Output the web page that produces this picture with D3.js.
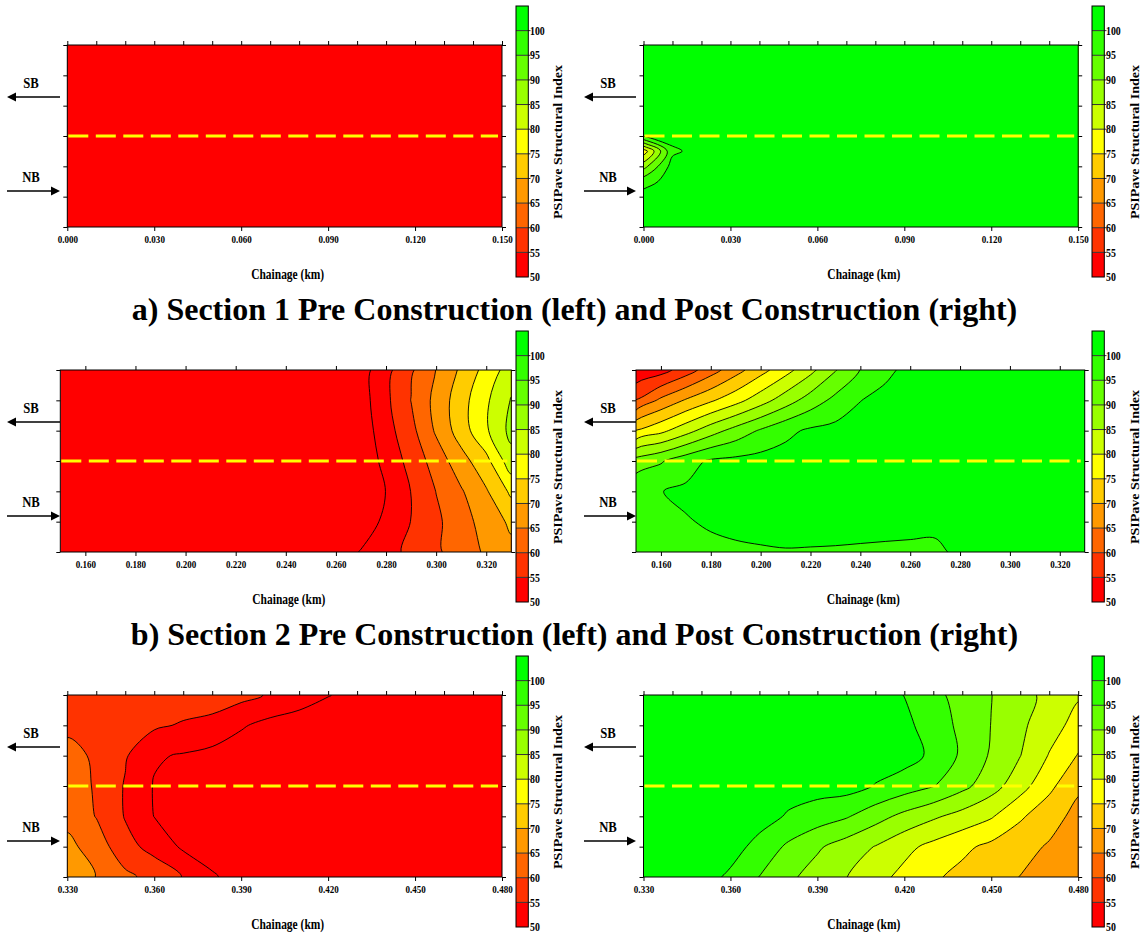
<!DOCTYPE html>
<html>
<head>
<meta charset="utf-8">
<title>PSIPave contour maps</title>
<script src="https://d3js.org/d3.v7.min.js"></script>
<style>
body { margin: 0; background: #fff; }
svg text { font-family: "Liberation Serif", "Times New Roman", serif; font-weight: bold; fill: #000; }
</style>
</head>
<body>
<svg id="chart" width="1146" height="935"></svg>
<script>
// colour bands of the PSIPave scale
var psiBreaks = [50, 55, 60, 65, 70, 75, 80, 85, 90, 95, 100];
var psiColors = ["#ff0000", "#ff3300", "#ff6600", "#ff9900", "#ffcc00", "#ffff00", "#ccff00", "#99ff00", "#66ff00", "#33ff00", "#00ff00"];
var laneTicks = [0, 1, 2, 3, 4, 5, 6];

var sec1Labels = [0, 0.03, 0.06, 0.09, 0.12, 0.15];
var sec1Minor = [0, 0.01, 0.02, 0.03, 0.04, 0.05, 0.06, 0.07, 0.08, 0.09, 0.10, 0.11, 0.12, 0.13, 0.14, 0.15];
var sec2Labels = [0.16, 0.18, 0.20, 0.22, 0.24, 0.26, 0.28, 0.30, 0.32];
var sec3Labels = [0.33, 0.36, 0.39, 0.42, 0.45, 0.48];
var sec3Minor = [0.33, 0.34, 0.35, 0.36, 0.37, 0.38, 0.39, 0.40, 0.41, 0.42, 0.43, 0.44, 0.45, 0.46, 0.47, 0.48];

var captions = ["a) Section 1 Pre Construction (left) and Post Construction (right)",
                "b) Section 2 Pre Construction (left) and Post Construction (right)"];

// grids: rows from lane offset 6 (top) to 0 (bottom), columns every 0.010 km
var s1Pre = [
 [52.4,52.1,51.9,52.0,52.3,52.2,51.8,51.6,51.9,52.1,52.0,51.7,51.5,51.8,52.0,52.2],
 [52.0,51.8,51.7,51.9,52.1,52.0,51.7,51.5,51.8,51.9,51.8,51.6,51.4,51.7,51.9,52.0],
 [51.7,51.6,51.5,51.7,51.9,51.8,51.6,51.4,51.6,51.7,51.6,51.5,51.3,51.5,51.7,51.8],
 [51.5,51.4,51.3,51.5,51.6,51.6,51.4,51.2,51.4,51.5,51.4,51.3,51.2,51.3,51.5,51.6],
 [51.8,51.6,51.5,51.6,51.8,51.7,51.5,51.4,51.5,51.7,51.6,51.4,51.3,51.5,51.6,51.8],
 [52.1,51.9,51.8,51.9,52.0,52.0,51.8,51.6,51.8,51.9,51.8,51.7,51.5,51.7,51.9,52.0],
 [52.3,52.2,52.0,52.1,52.3,52.2,52.0,51.9,52.0,52.2,52.1,51.9,51.8,52.0,52.1,52.3]
];
// post construction section 1 is sampled every 0.5 lane units
var s1Post = [
 [102,102,102,102,102,102,102,102,102,102,102,102,102,102,102,102],
 [102,102,102,102,102,102,102,102,102,102,102,102,102,102,102,102],
 [102,102,102,102,102,102,102,102,102,102,102,102,102,102,102,102],
 [102,102,102,102,102,102,102,102,102,102,102,102,102,102,102,102],
 [102,102,102,102,102,102,102,102,102,102,102,102,102,102,102,102],
 [102,102,102,102,102,102,102,102,102,102,102,102,102,102,102,102],
 [100.5,102,102,102,102,102,102,102,102,102,102,102,102,102,102,102],
 [77,99,102,102,102,102,102,102,102,102,102,102,102,102,102,102],
 [88,102,102,102,102,102,102,102,102,102,102,102,102,102,102,102],
 [98,102,102,102,102,102,102,102,102,102,102,102,102,102,102,102],
 [102,102,102,102,102,102,102,102,102,102,102,102,102,102,102,102],
 [102,102,102,102,102,102,102,102,102,102,102,102,102,102,102,102],
 [102,102,102,102,102,102,102,102,102,102,102,102,102,102,102,102]
];
var s2Pre = [
 [46,46,46,46,46,46,46,46,46,46,46,46.5,47.8,53.5,59.3,65.1,70.9,76.8,82.6],
 [46,46,46,46,46,46,46,46,46,46,46,46.5,47.7,53.9,60.1,66.5,73,79.2,85.3],
 [46,46,46,46,46,46,46,46,46,46,46,46.2,47,53,58.5,65.7,72.5,79.3,86.5],
 [46,46,46,46,46,46,46,46,46,46,46,46,46.5,51.5,56.7,62.2,68,73.5,83],
 [46,46,46,46,46,46,46,46,46,46,46,45.6,45.8,50.1,55.1,60.1,64.5,69.5,76],
 [46,46,46,46,46,46,46,46,46,46,46,46,47,51.2,55.1,59,63,67,71],
 [46,46,46,46,46,46,46,46,46,46,46,47,50.3,53.2,56.2,59.2,62.5,65.7,68.6]
];
var s2Post = [
 [51,53,57.5,62.8,68.1,73.2,78.2,83.6,89.7,95.1,98.8,101.5,102,102,102,102,102,102,102],
 [60.2,66.1,70.5,74.3,78.2,82.8,87.6,92.3,96.4,99.9,101.5,102,102,102,102,102,102,102,102],
 [75.2,78.7,83.1,87.8,91.9,95.6,98.8,100.8,101.5,102,102,102,102,102,102,102,102,102,102],
 [92,94.5,98,100.7,101.3,101.8,102,102,102,102,102,102,102,102,102,102,102,102,102],
 [99.3,99.9,100.8,101.3,101.7,102,102,102,102,102,102,102,102,102,102,102,102,102,102],
 [98,99,99.7,100.5,101.1,101.6,102,102,101.9,101.8,101.5,101.3,101.2,102,102,102,102,102,102],
 [97.5,98,98.5,99,99.3,99.5,99.7,99.6,99.5,99.3,99.2,99.1,99,101,102,102,102,102,102]
];
var s3Pre = [
 [58.5,58.3,58,57.8,57.7,57.5,56.5,54.5,52.5,50.2,48.5,47.5,47,47,47,47],
 [59,58.5,57.5,55.8,54.5,53.5,50.5,48.5,47.5,47,47,47,47,47,47,47],
 [61.5,59.3,55.5,50.5,49.6,48.5,47.5,47,47,47,47,47,47,47,47,47],
 [62,59.6,54.6,49.7,48.5,47.5,47,47,47,47,47,47,47,47,47,47],
 [63.5,59.8,54.7,49.9,48.5,47.5,47,47,47,47,47,47,47,47,47,47],
 [66.3,62.8,56.6,53.4,49.2,48,47.5,47,47,47,47,47,47,47,47,47],
 [68,64.9,61.2,58.2,54.8,50.5,48.2,47.5,47,47,47,47,47,47,47,47]
];
var s3Post = [
 [102,102,102,102,102,102,102,102,102,99.9,96.4,93.1,90.1,86.8,83.6,80.5],
 [102,102,102,102,102,102,102,102,102,101.3,97.6,93.8,89.9,86,82.1,78.2],
 [102,102,102,102,102,102,102,102,102,102,99,94.1,89.4,85.1,79.7,74.7],
 [102,102,102,102,102,102,102,102,99.8,97.5,95.2,91.4,87.1,82,76.2,70.8],
 [102,102,102,102,102,99.5,97.5,95.5,92,88.6,85.8,83.2,80.5,75.7,72,68.5],
 [102,102,102,102,98.4,94.1,90.7,87.7,84.8,81.4,78.6,76.1,73.8,71.7,69.5,67.3],
 [102,102,102,99.1,94.9,91,87.9,85.1,81.7,78.6,75.7,73.6,71.8,69.9,68.1,66.3]
];

var svg = d3.select("#chart");
var rowGap = 325, plotTop = 45, plotBottom = 227;
var squeeze = 0.82;   // the figure text is narrow, like the original export
var leftSide = {cbX: 516, titleX: 562, sbX: 31, ax0: 7, ax1: 60};
var rightSide = {cbX: 1092, titleX: 1139, sbX: 608, ax0: 584, ax1: 636};

var panels = [
  {row: 0, side: leftSide, x0: 67.3, x1: 502, domain: [0, 0.15], grid: s1Pre, labels: sec1Labels, minor: sec1Minor},
  {row: 0, side: rightSide, x0: 643.5, x1: 1078.2, domain: [0, 0.15], grid: s1Post, labels: sec1Labels, minor: sec1Minor},
  {row: 1, side: leftSide, x0: 60.3, x1: 511.3, domain: [0.15, 0.33], grid: s2Pre, labels: sec2Labels, minor: sec2Labels},
  {row: 1, side: rightSide, x0: 636, x1: 1084.7, domain: [0.15, 0.33], grid: s2Post, labels: sec2Labels, minor: sec2Labels},
  {row: 2, side: leftSide, x0: 67.3, x1: 502, domain: [0.33, 0.48], grid: s3Pre, labels: sec3Labels, minor: sec3Minor},
  {row: 2, side: rightSide, x0: 643.5, x1: 1078.2, domain: [0.33, 0.48], grid: s3Post, labels: sec3Labels, minor: sec3Minor}
];

var ringLine = d3.line().curve(d3.curveCatmullRomClosed.alpha(0.5));

function narrowText(g, x, y, str, size, anchor) {
  return g.append("text").attr("transform", "translate(" + x + "," + y + ") scale(" + squeeze + ",1)")
    .attr("text-anchor", anchor || "middle").attr("font-size", size + "px").text(str);
}

function arrow(g, xFrom, xTo, yy) {
  var dir = xTo > xFrom ? 1 : -1;
  g.append("line").attr("x1", xFrom).attr("x2", xTo - dir * 5).attr("y1", yy).attr("y2", yy)
    .attr("stroke", "#000").attr("stroke-width", 1.6);
  g.append("path")
    .attr("d", "M" + xTo + "," + yy + "L" + (xTo - dir * 9) + "," + (yy - 4.5) + "L" + (xTo - dir * 9) + "," + (yy + 4.5) + "Z")
    .attr("fill", "#000");
}

panels.forEach(function(p, k) {
  var g = svg.append("g").attr("transform", "translate(0," + p.row * rowGap + ")");
  var x = d3.scaleLinear().domain(p.domain).range([p.x0, p.x1]);
  var y = d3.scaleLinear().domain([0, 6]).range([plotBottom, plotTop]);

  var m = p.grid.length, n = p.grid[0].length;
  var dx = 0.01, dy = 6 / (m - 1);
  var bands = d3.contours().size([n, m]).thresholds(psiBreaks)(p.grid.flat());

  // grid coordinates -> pixels, rings drawn as smooth closed curves
  function bandPath(mp) {
    var s = "";
    mp.coordinates.forEach(function(poly) {
      poly.forEach(function(ring) {
        var pts = ring.slice(0, -1).map(function(c) {
          return [x(p.domain[0] + (c[0] - 0.5) * dx), y(6 - (c[1] - 0.5) * dy)];
        });
        if (pts.length > 2) s += ringLine(pts);
      });
    });
    return s;
  }

  var clipId = "clip" + k;
  g.append("clipPath").attr("id", clipId).append("rect")
    .attr("x", p.x0).attr("y", plotTop).attr("width", p.x1 - p.x0).attr("height", plotBottom - plotTop);

  var plot = g.append("g").attr("clip-path", "url(#" + clipId + ")");
  plot.append("rect").attr("x", p.x0).attr("y", plotTop).attr("width", p.x1 - p.x0)
    .attr("height", plotBottom - plotTop).attr("fill", psiColors[0]);
  plot.selectAll("path.band").data(bands).join("path").attr("class", "band")
    .attr("d", bandPath).attr("fill-rule", "evenodd").attr("fill", function(d, i) { return psiColors[i]; });
  plot.selectAll("path.iso").data(bands).join("path").attr("class", "iso")
    .attr("d", bandPath).attr("fill", "none").attr("stroke", "#000").attr("stroke-width", 0.9);

  // centre line of the road
  g.append("line").attr("x1", p.x0 + 1).attr("x2", p.x1 - 4).attr("y1", y(3)).attr("y2", y(3))
    .attr("stroke", "#ffff00").attr("stroke-width", 3).attr("stroke-dasharray", "20,7.5");

  g.append("rect").attr("x", p.x0).attr("y", plotTop).attr("width", p.x1 - p.x0)
    .attr("height", plotBottom - plotTop).attr("fill", "none").attr("stroke", "#000").attr("stroke-width", 1);

  var axTop = g.append("g").attr("transform", "translate(0," + plotTop + ")")
    .call(d3.axisTop(x).tickValues(p.minor).tickSize(4).tickSizeOuter(0).tickFormat(""));
  var axBottom = g.append("g").attr("transform", "translate(0," + plotBottom + ")")
    .call(d3.axisBottom(x).tickValues(p.labels).tickSize(4).tickSizeOuter(0).tickPadding(4).tickFormat(d3.format(".3f")));
  var axLeft = g.append("g").attr("transform", "translate(" + p.x0 + ",0)")
    .call(d3.axisLeft(y).tickValues(laneTicks).tickSize(4).tickSizeOuter(0).tickFormat(""));
  var axRight = g.append("g").attr("transform", "translate(" + p.x1 + ",0)")
    .call(d3.axisRight(y).tickValues(laneTicks).tickSize(4).tickSizeOuter(0).tickFormat(""));
  [axTop, axBottom, axLeft, axRight].forEach(function(a) {
    a.select(".domain").remove();
    a.selectAll("line").attr("stroke", "#000");
  });
  axBottom.selectAll("text").attr("font-size", "11px").attr("font-family", "Liberation Serif")
    .attr("font-weight", "bold").attr("transform", "scale(" + squeeze + ",1)");

  narrowText(g, (p.x0 + p.x1) / 2 + 3, 279, "Chainage (km)", 14);

  // travel direction markers
  narrowText(g, p.side.sbX, 88, "SB", 15.5);
  arrow(g, p.side.ax1, p.side.ax0, 97);
  narrowText(g, p.side.sbX, 182, "NB", 15.5);
  arrow(g, p.side.ax0, p.side.ax1, 191);

  // colour bar
  var cy = d3.scaleLinear().domain([50, 105]).range([277, 6]);
  var cb = g.append("g");
  cb.selectAll("rect").data(psiBreaks).join("rect")
    .attr("x", p.side.cbX).attr("width", 12.3)
    .attr("y", function(d) { return cy(d + 5); })
    .attr("height", function(d) { return cy(d) - cy(d + 5); })
    .attr("fill", function(d, i) { return psiColors[i]; });
  cb.selectAll("line").data(psiBreaks.slice(1)).join("line")
    .attr("x1", p.side.cbX).attr("x2", p.side.cbX + 14.5)
    .attr("y1", function(d) { return cy(d); }).attr("y2", function(d) { return cy(d); })
    .attr("stroke", "#333").attr("stroke-width", 1);
  cb.append("rect").attr("x", p.side.cbX).attr("y", cy(105)).attr("width", 12.3).attr("height", cy(50) - cy(105))
    .attr("fill", "none").attr("stroke", "#000").attr("stroke-width", 1);
  psiBreaks.forEach(function(d) {
    narrowText(cb, p.side.cbX + 14, cy(d), d, 12, "start").attr("dy", "0.35em");
  });
  g.append("text").attr("transform", "translate(" + p.side.titleX + ",142) rotate(-90) scale(1," + squeeze + ")")
    .attr("text-anchor", "middle").attr("font-size", "14px").text("PSIPave Structural Index");
});

captions.forEach(function(c, i) {
  svg.append("text").attr("x", 574.5).attr("y", 320 + i * rowGap).attr("text-anchor", "middle")
    .attr("font-size", "32px").text(c);
});
</script>
</body>
</html>
